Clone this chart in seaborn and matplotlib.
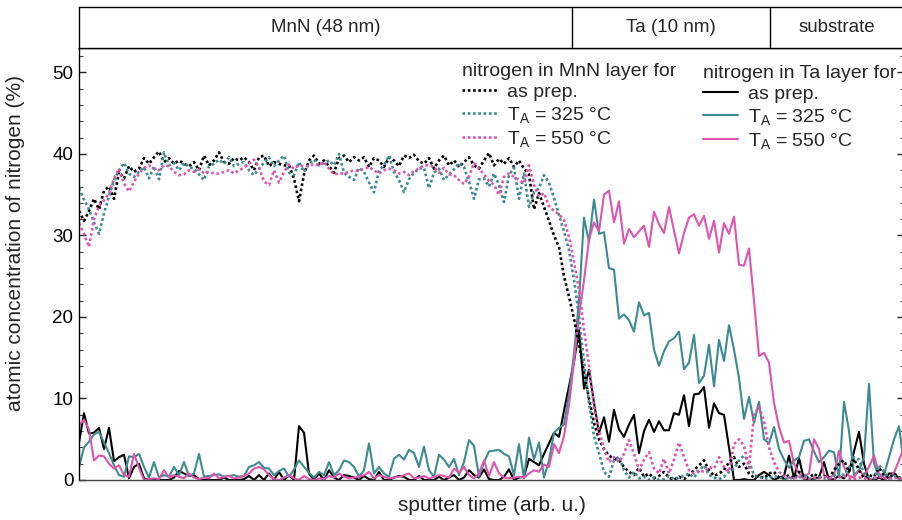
import numpy as np
import pandas as pd
import matplotlib
matplotlib.use("Agg")
import matplotlib.pyplot as plt
from matplotlib.lines import Line2D
from matplotlib.ticker import MultipleLocator
import seaborn as sns

# ---------------- data (atomic concentration of nitrogen, %) ----------------
sputter_step = np.arange(166)

mnn_as_prep = [33, 31.8, 33, 34.5, 33.2, 35.5, 36, 34.5, 37.8, 37,
               38.5, 37.8, 38.2, 39.5, 38.8, 39.6, 40.3, 39, 39.5, 38.8,
               39.2, 38.8, 38.5, 39, 38, 39.8, 38.6, 39.2, 40.2, 39,
               38.8, 39.5, 39.2, 39.6, 39, 38, 39.6, 39.8, 38.5, 39,
               38.8, 38.6, 38.6, 37, 34.2, 37.5, 39.2, 39.8, 38.8, 39.2,
               38.5, 37.7, 39.5, 39.8, 39, 39.6, 39.2, 39.6, 38.4, 39.5,
               39.2, 38.4, 39.6, 39.2, 38.5, 39.8, 39.5, 39.9, 39.1, 38.8,
               39.5, 38.2, 39.2, 39.8, 38.6, 39.2, 38.4, 39, 39.6, 38.6,
               38.2, 39.2, 40.1, 38.6, 39.4, 38.8, 39.5, 38.4, 39.2, 38.2,
               37.5, 33.2, 35.2, 33.5, 31.8, 30, 28.6, 25, 22.5, 19.8,
               16.6, 13.2, 10, 7, 5, 3.8, 3, 2.6, 2.4, 1.6,
               1, 0.6, 1.5, 0.4, 0.8, 0.2, 0.5, 1.0, 0.3, 0,
               0.4, 0.1, 0.6, 1.2, 1.8, 2.4, 1.2, 0.5, 0.8, 1.2,
               2.2, 2.8, 1.6, 2, 0.8, 0.3, 0.5, 0.2, 0.8, 1.0,
               0.3, 0.2, 0.6, 0.2, 1.0, 0.5, 0.2, 0.8, 0.3, 0.5,
               0.2, 1.2, 2.0, 2.4, 1.0, 2.6, 1.2, 0.2, 0.6, 0.4,
               1.5, 0.6, 0.2, 0.8, 0.3, 0.2]

mnn_325 = [35.8, 34.4, 33.2, 31.6, 30.2, 32.7, 34.8, 36.8, 38, 38.9,
           37.6, 37.2, 37.8, 38.4, 37, 38.5, 36.9, 40.2, 38.6, 38.9,
           38, 38.9, 38.4, 38.2, 37.5, 36.8, 38.5, 38.8, 39.3, 38.8,
           39.6, 38.5, 38.8, 39.0, 38, 37.4, 38.2, 38.9, 39.6, 38.5,
           39.2, 39.8, 37.7, 37.4, 39.0, 37.8, 38.8, 39.3, 38.6, 38.9,
           39.2, 38.6, 40, 37.7, 37.2, 36.8, 38.3, 37.8, 36.5, 35.3,
           38, 38.6, 39.8, 37.8, 36.8, 35.3, 36.9, 37.7, 38.2, 38.3,
           35.8, 37.7, 38.2, 36.8, 37.5, 38.1, 38.9, 38.4, 36.6, 34.5,
           36.9, 37, 36, 37.6, 36.2, 34.1, 37.4, 38.3, 34.5, 37.6,
           33.5, 35.3, 35.8, 37.4, 36.5, 34.6, 32.5, 30.5, 28.2, 24.6,
           20, 14.5, 9.5, 5.4, 3.3, 1.0, 0.4, 2.4, 2.9, 1.2,
           0.3, 1.0, 0.2, 0.4, 0, 0.3, 0, 0.1, 0.5, 0.1,
           0.3, 0.5, 0.8, 0.3, 1.1, 1.8, 0.6, 0.3, 0.1, 0.4,
           1.0, 1.4, 2.4, 3.0, 2.2, 0.6, 0.4, 0.2, 0.2, 0.5,
           0.3, 0.2, 0.1, 0.4, 0.2, 0.6, 0.2, 0.1, 0.4, 0.2,
           0.2, 0.5, 1.0, 0.6, 1.5, 2.8, 2.5, 0.8, 0.4, 0.2,
           1.8, 1.0, 0.2, 0.5, 0.2, 0.3]

mnn_550 = [31.5, 30.2, 28.6, 32, 33.6, 34.3, 35.2, 37, 38.2, 36.4,
           35.4, 36.6, 37.6, 38.3, 38.6, 38.2, 38, 38.6, 38.5, 37.8,
           37.4, 37.5, 38, 37.8, 38.1, 37.6, 37.8, 37.6, 37.6, 37.8,
           38, 37.6, 38, 38.3, 38.8, 39.3, 38.4, 36.6, 36.2, 38,
           36.5, 37.8, 38.7, 38.2, 38.6, 38.5, 38.5, 38.8, 38.6, 39,
           38.2, 37.5, 37.6, 37.6, 37.8, 38, 37.9, 38.2, 38.4, 38,
           37.6, 38, 38.2, 38, 37.6, 37.8, 37.4, 37.9, 38.2, 38.6,
           38.6, 38.4, 37.7, 38.3, 37.5, 37.4, 36.8, 36.3, 37.2, 38.9,
           38.2, 37.5, 36.7, 36.2, 35, 37.2, 37.6, 37.2, 36.8, 36.4,
           38.6, 36.2, 34.8, 35.2, 33.6, 33.0, 32.6, 31.9, 29.8, 26.8,
           23.3, 18.5, 14, 9, 6, 3.8, 2.2, 2.8, 2.2, 3.2,
           4.9, 3.2, 1.2, 2.5, 3.4, 1.4, 0.8, 2.6, 0.8, 2.5,
           4.6, 2.8, 1.2, 0.8, 1.2, 1.0, 1.6, 1.4, 2.8, 1.6,
           1.0, 4.4, 5.0, 4.2, 1.5, 8.0, 9.0, 7.2, 4.0, 2.2,
           1.0, 0.5, 0.3, 0.2, 0.4, 0.2, 0.1, 0.3, 0.2, 0.4,
           0.2, 0.1, 0.3, 0.5, 0.2, 0.1, 0.3, 0.2, 0.1, 0.2,
           0.4, 0.2, 0.1, 0.3, 0.2, 0.1]

ta_as_prep = [4.6, 8.2, 5.7, 5.8, 6.4, 3.8, 6.4, 2.3, 2.8, 3.1,
              0.2, 1.6, 2.0, 0.2, 0, 0, 0, 0, 0, 0.3,
              1.1, 0.8, 0.5, 0.6, 0.1, 0, 0, 0, 0, 0.3,
              0, 0, 0, 0.1, 0.5, 0, 0.6, 0, 0.8, 0,
              1.0, 0, 0.6, 0, 6.6, 5.8, 0.8, 0, 0.8, 0,
              1.2, 0.3, 0, 0.6, 0.5, 0.3, 0, 0.5, 0.1, 0,
              1.0, 0, 0, 0.3, 0.5, 0.4, 0, 0, 0.5, 0,
              0, 0, 0.4, 0, 0.3, 0.6, 0, 0.3, 1.2, 0.6,
              0.3, 1.3, 0.1, 0, 0, 0.4, 1.3, 0, 0.3, 0.4,
              2.6, 2.2, 1.8, 3.2, 4.5, 5.8, 5.3, 8.5, 11.5, 14.5,
              18.4, 11.2, 13.5, 9.5, 5.8, 7.7, 4.7, 8.6, 6.2, 5.3,
              6.8, 8.0, 3.3, 6.0, 7.4, 5.9, 7.2, 6.1, 6.1, 8.2,
              8.0, 10.4, 6.6, 10.5, 10.6, 11.4, 6.4, 9.4, 8.2, 8.0,
              4.0, 0, 0, 0.1, 0, 0, 0.6, 1.0, 0.6, 0,
              0.3, 0.5, 3.0, 0.2, 2.7, 0, 0, 0.2, 0.3, 2.2,
              0, 0.1, 0.5, 0.2, 1.0, 3.5, 5.9, 2.0, 0, 0,
              0.3, 0, 0.8, 0.8, 0.2, 0.1]

ta_325 = [1.6, 4.0, 4.7, 5.6, 5.9, 4.6, 3.3, 1.8, 0.6, 0.4,
          2.9, 2.8, 3.2, 1.6, 0.3, 2.2, 0.3, 0.6, 0.4, 1.6,
          0.6, 2.2, 0.5, 0.8, 3.2, 0.4, 0.5, 0.6, 0.7, 0.4,
          0.5, 0.6, 0.4, 0.5, 1.6, 1.8, 2.2, 1.5, 1.4, 0.6,
          1.1, 1.4, 0.4, 1.3, 2.4, 1.6, 0.9, 0.3, 1.0, 0.6,
          2.2, 0.6, 1.2, 2.4, 2.2, 1.6, 0.4, 1.2, 4.5, 0.8,
          1.6, 0.8, 0.4, 2.6, 3.1, 2.5, 3.7, 3.3, 1.6, 4.1,
          1.2, 0.4, 3.1, 2.5, 1.6, 2.6, 0.6, 2.2, 4.9, 4.2,
          0.4, 2.2, 3.5, 3.6, 3.7, 3.2, 2.9, 0.6, 4.4, 0.2,
          5.2, 2.5, 4.6, 0.3, 2.4, 5.8, 6.4, 6.8, 10.5, 15.5,
          22, 32.2, 29.2, 34.4, 30.2, 30.4, 26, 25.8, 19.8, 20.3,
          19.6, 18.2, 21.8, 20.2, 20.5, 16, 14, 15.8, 17, 17.4,
          18.2, 13.6, 14.4, 17.8, 11.9, 12.8, 16.6, 11.5, 17.2, 14.6,
          19.0, 16, 12.5, 7.5, 10.2, 7.0, 9.6, 5.0, 4.5, 6.5,
          3.8, 2.5, 1.5, 2.4, 2.8, 4.8, 5.0, 3.5, 2.2, 2.8,
          3.6, 3.4, 0.3, 9.6, 6.0, 0.6, 1.2, 2.8, 11.8, 2.0,
          0.4, 0.6, 2.8, 5.0, 6.6, 2.0]

ta_550 = [6.7, 7.4, 6.2, 2.4, 3.0, 2.9, 2.0, 1.4, 1.8, 0.6,
          0.4, 3.2, 1.5, 0, 0.1, 0.2, 0.1, 1.2, 0.3, 0.6,
          0.4, 0.2, 0.8, 0.3, 0.1, 0.3, 0.2, 0.8, 0.2, 0.4,
          0.5, 0.2, 0.3, 0.5, 0.8, 1.4, 1.6, 1.3, 0.6, 0.1,
          0, 0.3, 0.6, 0.2, 0, 0.5, 0.1, 0, 0.2, 0.1,
          0.5, 0.3, 0.8, 0.4, 0.2, 0.3, 0.4, 0.6, 1.0, 0.2,
          0.6, 0.4, 0.2, 0.3, 0.4, 0.6, 0.8, 0.2, 0.3, 0.5,
          0.2, 0.4, 0.6, 0.5, 0.3, 1.4, 0.9, 1.6, 0.6, 0.2,
          0.8, 2.4, 0.5, 2.2, 0.8, 0.3, 0.2, 0.3, 0.4, 0.3,
          0.8, 1.2, 1.0, 1.9, 1.6, 4.4, 3.3, 5.4, 9.2, 14.5,
          20.2, 24.5, 29.5, 31.6, 30.5, 35, 35.5, 31.6, 34.2, 29.0,
          30.8, 29.8, 30.5, 31.2, 28.6, 32.9, 31.4, 30.3, 33.5, 30.6,
          27.8, 30.3, 32.2, 32.6, 31.2, 32.4, 29.6, 31.8, 27.9, 31.5,
          30.2, 32.3, 26.4, 26.3, 28.4, 22.0, 15.2, 15.6, 14.4, 9.5,
          6.5, 4.6, 4.8, 2.0, 0.8, 0.4, 0.8, 5.0, 3.8, 0.6,
          0.3, 0.6, 3.6, 1.6, 0.5, 0.3, 1.2, 0.5, 1.6, 3.0,
          0.8, 0.3, 0.2, 0.9, 2.4, 4.0]

layer_names = ["MnN (48 nm)", "Ta (10 nm)", "substrate"]
layer_edges = [0, 98.6, 138.2, 165]
legend_labels = ["as prep.", r"$\mathregular{T_A}$ = 325 °C", r"$\mathregular{T_A}$ = 550 °C"]
legend_title_mnn = "nitrogen in MnN layer for"
legend_title_ta = "nitrogen in Ta layer for"

# ---------------- style ----------------
sns.set_style("white")
plt.rcParams["font.family"] = ["Liberation Sans", "DejaVu Sans"]
plt.rcParams["mathtext.fontset"] = "custom"
plt.rcParams["mathtext.rm"] = "Liberation Sans"
plt.rcParams["mathtext.it"] = "Liberation Sans:italic"
FS_LABEL = 15
FS_LEG = 14
FS_BAND = 13.5
FS_TICK = 13.5

BLACK = "#000000"
TEAL = "#3d8b91"
PINK = "#de55b0"
colors = [BLACK, TEAL, PINK]
DOT = (0, (1.0, 1.0))

fig = plt.figure(figsize=(9.03, 5.20), dpi=100)
W, H = 903.0, 520.0
ax = fig.add_axes([79 / W, (H - 480) / H, 825 / W, 432 / H])

series_dot = [mnn_as_prep, mnn_325, mnn_550]
series_solid = [ta_as_prep, ta_325, ta_550]

for vals, c in zip(series_solid, colors):
    sns.lineplot(x=sputter_step, y=np.array(vals), ax=ax, color=c, lw=1.5,
                 legend=False)
for vals, c in zip(series_dot, colors):
    sns.lineplot(x=sputter_step, y=np.array(vals), ax=ax, color=c, lw=1.9,
                 legend=False)
    ax.lines[-1].set_linestyle(DOT)

ax.set_xlim(0, 165)
ax.set_ylim(0, 53)
ax.set_xticks([])
ax.yaxis.set_major_locator(MultipleLocator(10))
ax.yaxis.set_minor_locator(MultipleLocator(2))
ax.tick_params(axis="y", which="major", direction="in", length=5, width=1,
               left=True, right=True, labelsize=FS_TICK, pad=4, colors="#222222",
               labelcolor="black")
ax.tick_params(axis="y", which="minor", direction="in", length=3, width=0.8,
               left=True, right=True, colors="#444444")
for s in ["left", "right", "top"]:
    ax.spines[s].set_color("black")
    ax.spines[s].set_linewidth(1.0)
ax.spines["bottom"].set_color("#444444")
ax.spines["bottom"].set_linewidth(1.0)

ax.set_ylabel("atomic concentration of nitrogen (%)", fontsize=FS_LABEL)
ax.yaxis.set_label_coords(-0.066, 0.548)
ax.set_xlabel("sputter time (arb. u.)", fontsize=FS_LABEL, va="top")
ax.xaxis.set_label_coords(0.5, -0.038)

# legends
h_dot = [Line2D([0], [0], color=c, lw=1.9, linestyle=DOT) for c in colors]
h_sol = [Line2D([0], [0], color=c, lw=1.5) for c in colors]
common = dict(frameon=False, fontsize=FS_LEG, title_fontsize=FS_LEG, loc="upper left",
              borderpad=0, borderaxespad=0, handlelength=1.8, handletextpad=0.5,
              labelspacing=0.2, alignment="left", bbox_transform=fig.transFigure)
leg1 = ax.legend(h_dot, legend_labels, title=legend_title_mnn,
                 bbox_to_anchor=(462 / W, 1 - 62.5 / H), **common)
ax.add_artist(leg1)
leg2 = ax.legend(h_sol, legend_labels, title=legend_title_ta,
                 bbox_to_anchor=(703 / W, 1 - 64.5 / H), **common)

# layer band on top
band = fig.add_axes([79 / W, (H - 48) / H, 825 / W, 41 / H])
band.set_xlim(0, 165)
band.set_ylim(0, 1)
band.set_xticks([])
band.set_yticks([])
for s in ["left", "top", "bottom"]:
    band.spines[s].set_color("black")
    band.spines[s].set_linewidth(1.0)
band.spines["right"].set_visible(False)
for e in layer_edges[1:-1]:
    band.axvline(e, color="black", lw=1.0)
for name, a, b in zip(layer_names, layer_edges[:-1], layer_edges[1:]):
    band.text((a + b) / 2, 0.5, name, ha="center", va="center", fontsize=FS_BAND)

fig.savefig("out.png", dpi=100)
